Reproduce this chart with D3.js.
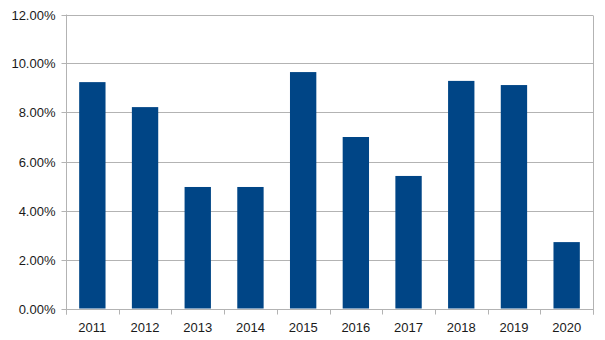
<!DOCTYPE html>
<html>
<head>
<meta charset="utf-8">
<script src="https://cdn.jsdelivr.net/npm/d3@7"></script>
<style>
  html, body { margin: 0; padding: 0; background: #fff; }
  svg { display: block; }
  text { font-family: "Liberation Sans", Arial, sans-serif; font-size: 13px; fill: #1a1a1a; }
</style>
</head>
<body>
<svg id="chart" width="605" height="340"></svg>
<script>
// Annual rate per year
const years = ["2011", "2012", "2013", "2014", "2015", "2016", "2017", "2018", "2019", "2020"];
const rates = [0.0924, 0.0822, 0.0496, 0.0496, 0.0965, 0.0700, 0.0541, 0.0929, 0.0912, 0.0271];
const yTicks = [0, 0.02, 0.04, 0.06, 0.08, 0.10, 0.12];

const svg = d3.select("#chart");
const plotLeft = 66, plotRight = 593, plotTop = 14.5, plotBottom = 308.5;
const gridColor = "#b3b3b3";
const barColor = "#004586";

const x = d3.scaleBand().domain(years).range([plotLeft, plotRight]).paddingInner(0.5).paddingOuter(0.25);
const y = d3.scaleLinear().domain([0, 0.12]).range([plotBottom, plotTop]);
const fmt = d3.format(".2%");

// Horizontal grid lines
svg.append("g").selectAll("line").data(yTicks).join("line")
  .attr("x1", plotLeft).attr("x2", plotRight)
  .attr("y1", d => Math.round(y(d)) + 0.5).attr("y2", d => Math.round(y(d)) + 0.5)
  .attr("stroke", gridColor).attr("stroke-width", 1);

// Right border of the plot
svg.append("line")
  .attr("x1", plotRight + 0.5).attr("x2", plotRight + 0.5)
  .attr("y1", Math.round(y(0.12)) + 0.5).attr("y2", plotBottom + 6)
  .attr("stroke", gridColor);

// Bars
svg.append("g").selectAll("rect").data(years).join("rect")
  .attr("x", d => x(d))
  .attr("width", x.bandwidth())
  .attr("y", (d, i) => y(rates[i]))
  .attr("height", (d, i) => y(0) - y(rates[i]))
  .attr("fill", barColor);

// Y axis
const yAxis = svg.append("g")
  .attr("transform", `translate(${plotLeft + 0.5},0)`)
  .call(d3.axisLeft(y).tickValues(yTicks).tickFormat(fmt).tickSize(5).tickPadding(6));
yAxis.select(".domain").attr("stroke", gridColor).attr("d", `M0,${y(0.12)}V${plotBottom + 6}`);
yAxis.selectAll(".tick").attr("transform", d => `translate(0,${Math.round(y(d)) + 0.5})`);
yAxis.selectAll(".tick line").attr("stroke", gridColor);
yAxis.selectAll(".tick text").attr("fill", "#1a1a1a").attr("font-size", 13)
  .attr("font-family", "Liberation Sans, Arial, sans-serif");

// X axis with ticks at category boundaries
const xAxisG = svg.append("g").attr("transform", `translate(0,${Math.round(plotBottom) + 0.5})`);
const bounds = d3.range(years.length + 1).map(i => plotLeft + i * (plotRight - plotLeft) / years.length);
xAxisG.selectAll("line.b").data(bounds).join("line").attr("class", "b")
  .attr("x1", d => Math.round(d) + 0.5).attr("x2", d => Math.round(d) + 0.5)
  .attr("y1", 0).attr("y2", 5).attr("stroke", gridColor);
xAxisG.selectAll("text").data(years).join("text")
  .attr("x", d => x(d) + x.bandwidth() / 2)
  .attr("y", 22)
  .attr("text-anchor", "middle")
  .text(d => d);
</script>
</body>
</html>
